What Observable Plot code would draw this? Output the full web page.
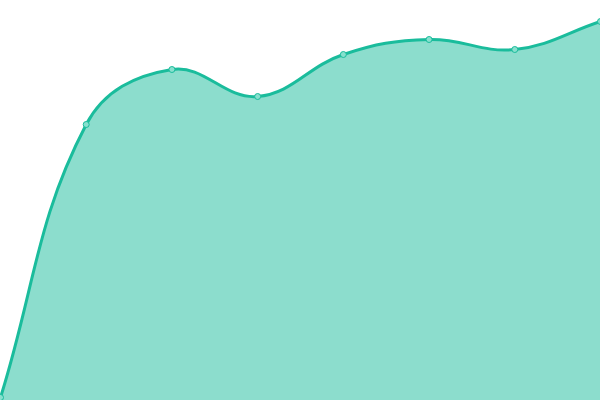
<!DOCTYPE html>
<html>
<head>
<meta charset="utf-8">
<script src="https://cdn.jsdelivr.net/npm/d3@7"></script>
<script src="https://cdn.jsdelivr.net/npm/@observablehq/plot@0.6"></script>
<style>
  html, body { margin: 0; padding: 0; background: #fff; }
  svg { display: block; }
</style>
</head>
<body>
<div id="chart"></div>
<script>
const labels = [0, 1, 2, 3, 4, 5, 6, 7];
const values = [3, 276, 331, 304, 346, 361, 351, 379];

const data = labels.map((x, i) => ({x, y: values[i]}));

// Distance-weighted cubic spline (tension 0.4) as a d3 curve factory
function SplineCurve(context, t) { this._context = context; this._t = t; }
SplineCurve.prototype = {
  areaStart() { this._line = 0; },
  areaEnd() { this._line = NaN; },
  lineStart() { this._pts = []; },
  point(x, y) { this._pts.push([+x, +y]); },
  lineEnd() {
    const p = this._pts, n = p.length, c = this._context, t = this._t;
    if (n === 0) { this._line = 1 - this._line; return; }
    if (this._line) c.lineTo(p[0][0], p[0][1]); else c.moveTo(p[0][0], p[0][1]);
    const cps = p.map((cur, i) => {
      const prev = p[i - 1] || cur, next = p[i + 1] || cur;
      const d01 = Math.hypot(cur[0] - prev[0], cur[1] - prev[1]);
      const d12 = Math.hypot(next[0] - cur[0], next[1] - cur[1]);
      let s01 = d01 / (d01 + d12), s12 = d12 / (d01 + d12);
      if (!isFinite(s01)) s01 = 0;
      if (!isFinite(s12)) s12 = 0;
      const fa = t * s01, fb = t * s12;
      return {
        px: cur[0] - fa * (next[0] - prev[0]), py: cur[1] - fa * (next[1] - prev[1]),
        nx: cur[0] + fb * (next[0] - prev[0]), ny: cur[1] + fb * (next[1] - prev[1])
      };
    });
    for (let i = 0; i < n - 1; i++) {
      c.bezierCurveTo(cps[i].nx, cps[i].ny, cps[i + 1].px, cps[i + 1].py, p[i + 1][0], p[i + 1][1]);
    }
    if (this._line || (this._line !== 0 && n === 1)) c.closePath();
    this._line = 1 - this._line;
  }
};
const spline = (context) => new SplineCurve(context, 0.4);

const chart = Plot.plot({
  width: 600,
  height: 400,
  margin: 0,
  x: {domain: [0, 7], range: [0, 600], axis: null},
  y: {domain: [0, 400], range: [400, 0], axis: null},
  marks: [
    Plot.areaY(data, {x: "x", y: "y", curve: spline, fill: "#1abc9c", fillOpacity: 0.5}),
    Plot.lineY(data, {x: "x", y: "y", curve: spline, stroke: "#1abc9c", strokeWidth: 3}),
    Plot.dot(data, {x: "x", y: "y", r: 3, fill: "#88e0ce", stroke: "#1abc9c", strokeWidth: 1})
  ]
});
document.getElementById("chart").appendChild(chart);
</script>
</body>
</html>
